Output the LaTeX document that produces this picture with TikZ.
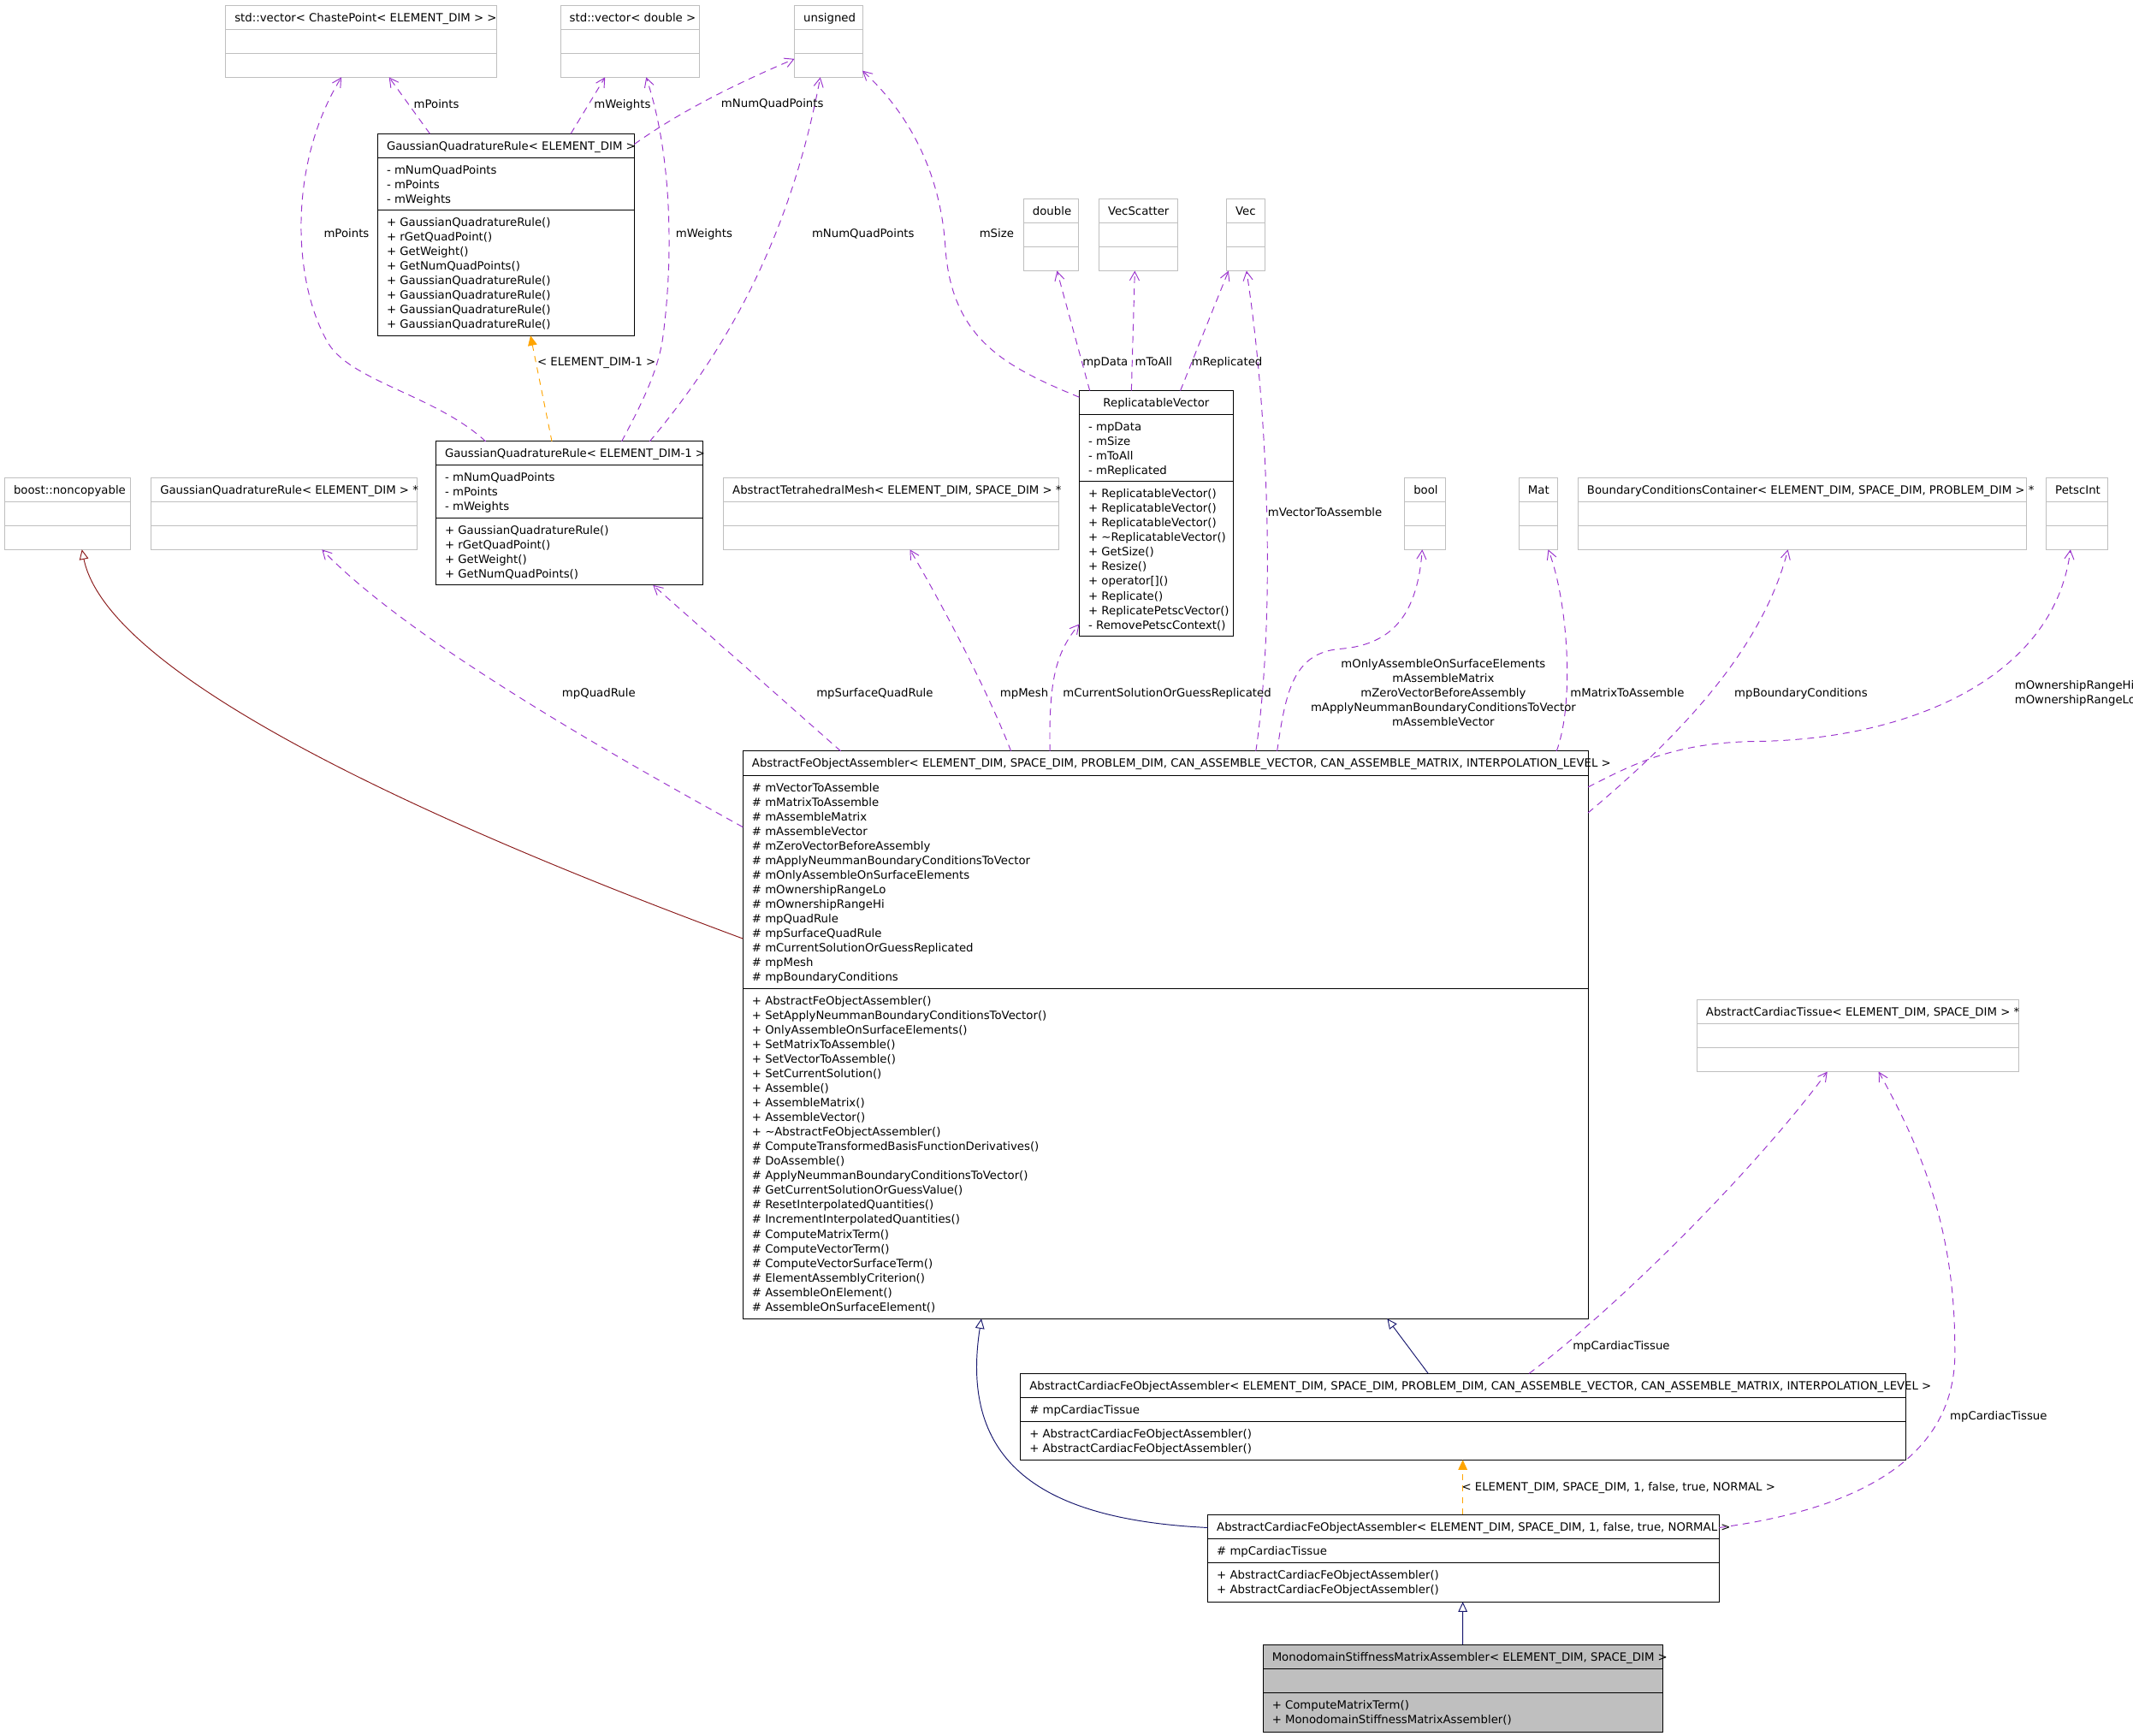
\documentclass[tikz,border=0pt]{standalone}
\usepackage{fontspec}
\setmainfont{DejaVu Sans}
\usetikzlibrary{arrows.meta,calc}
\definecolor{boxgray}{HTML}{BFBFBF}
\definecolor{usepurple}{HTML}{9A32CD}
\definecolor{inhred}{HTML}{8B1A1A}
\definecolor{inhblue}{HTML}{191970}
\definecolor{tmplorange}{HTML}{FFA500}
\definecolor{monofill}{HTML}{BFBFBF}
\newcommand\firststrut{\rule{0pt}{7.5pt}}
\newcommand\classbox[8]{%
  \node[#2, minimum width={(#5-#3)*1pt}, minimum height={(#8-#4)*1pt}] (#1) at (#3,#4) {};
  \draw[#2line] (#3,#6) -- (#5,#6) (#3,#7) -- (#5,#7);
}
\begin{document}
\begin{tikzpicture}[x=1pt,y=-1pt,
  font=\fontsize{8.35}{10.7}\selectfont,
  gbox/.style={draw=boxgray,line width=0.63pt,inner sep=0pt,outer sep=0pt,anchor=north west},
  gboxline/.style={draw=boxgray,line width=0.63pt},
  bbox/.style={draw=black,line width=0.63pt,inner sep=0pt,outer sep=0pt,anchor=north west},
  bboxline/.style={draw=black,line width=0.63pt},
  mbox/.style={bbox,fill=monofill},
  mboxline/.style={draw=black,line width=0.63pt},
  hdr/.style={anchor=base west,inner sep=0pt},
  lst/.style={anchor=north west,inner sep=0pt,align=left},
  lbl/.style={anchor=base west,inner sep=0pt},
  usage/.style={draw=usepurple,line width=0.6pt,dash pattern=on 5pt off 3.8pt,-{Straight Barb[length=6.5pt,width=7pt]}},
  tmpl/.style={draw=tmplorange,line width=0.6pt,dash pattern=on 4.5pt off 4pt,-{Triangle[length=7.3pt,width=6.7pt]}},
  inhr/.style={draw=inhred,line width=0.6pt,-{Triangle[open,length=7.3pt,width=6.7pt]}},
  inhb/.style={draw=inhblue,line width=0.6pt,-{Triangle[open,length=7.3pt,width=6.7pt]}},
]
\useasboundingbox (0,0) rectangle (1568,1276);
\fill[white] (0,0) rectangle (1568,1276);

% ---------- boxes ----------
\classbox{vcp}{gbox}{166}{4}{365}{21.6}{39.2}{56.8}
\classbox{vdb}{gbox}{412}{4}{514}{21.6}{39.2}{56.8}
\classbox{uns}{gbox}{584}{4}{634}{21.6}{39.2}{56.8}
\classbox{dbl}{gbox}{752.4}{146.3}{792.6}{163.9}{181.5}{199.1}
\classbox{vsc}{gbox}{807.8}{146.3}{865.8}{163.9}{181.5}{199.1}
\classbox{vec}{gbox}{901.6}{146.3}{929.6}{163.9}{181.5}{199.1}
\classbox{gqr}{bbox}{277.6}{98.3}{466.3}{115.9}{154.5}{246.7}
\classbox{gqra}{bbox}{320.4}{324.5}{516.4}{342.1}{380.9}{430.2}
\classbox{rv}{bbox}{793.4}{287.2}{906.6}{304.9}{354.1}{467.8}
\classbox{nc}{gbox}{3.4}{351.2}{95.8}{368.8}{386.4}{404}
\classbox{gqrp}{gbox}{111.1}{351.2}{306.5}{368.8}{386.4}{404}
\classbox{atm}{gbox}{531.8}{351.2}{778.3}{368.8}{386.4}{404}
\classbox{bool}{gbox}{1032.5}{351.2}{1062.5}{368.8}{386.4}{404}
\classbox{mat}{gbox}{1116.6}{351.2}{1145}{368.8}{386.4}{404}
\classbox{bcc}{gbox}{1160}{351.2}{1489.9}{368.8}{386.4}{404}
\classbox{pint}{gbox}{1504.2}{351.2}{1549.3}{368.8}{386.4}{404}
\classbox{main}{bbox}{546.1}{552.2}{1167.4}{570.1}{727}{969.4}
\classbox{act}{gbox}{1247.4}{735}{1483.9}{752.6}{770.2}{787.8}
\classbox{cfa}{bbox}{750.1}{1009.7}{1401.3}{1027.3}{1044.9}{1073.2}
\classbox{cfb}{bbox}{887.8}{1113.4}{1263.7}{1131.1}{1148.7}{1177.6}
\classbox{mono}{mbox}{928.4}{1209}{1222.6}{1226.6}{1244.2}{1273.2}

% ---------- box texts ----------
\node[hdr] (vcp-h) at (172.3,15.8) {std::vector< ChastePoint< ELEMENT\_DIM > >};
\node[hdr] (vdb-h) at (418.5,15.8) {std::vector< double >};
\node[hdr] (uns-h) at (590.5,15.8) {unsigned};
\node[hdr] (dbl-h) at (758.9,158.1) {double};
\node[hdr] (vsc-h) at (814.3,158.1) {VecScatter};
\node[hdr] (vec-h) at (908.1,158.1) {Vec};
\node[hdr] (nc-h) at (9.9,363) {boost::noncopyable};
\node[hdr] (gqrp-h) at (117.6,363) {GaussianQuadratureRule< ELEMENT\_DIM > *};
\node[hdr] (atm-h) at (538.3,363) {AbstractTetrahedralMesh< ELEMENT\_DIM, SPACE\_DIM > *};
\node[hdr] (bool-h) at (1039,363) {bool};
\node[hdr] (mat-h) at (1123.1,363) {Mat};
\node[hdr] (bcc-h) at (1166.5,363) {BoundaryConditionsContainer< ELEMENT\_DIM, SPACE\_DIM, PROBLEM\_DIM > *};
\node[hdr] (pint-h) at (1510.7,363) {PetscInt};
\node[hdr] (act-h) at (1253.9,746.8) {AbstractCardiacTissue< ELEMENT\_DIM, SPACE\_DIM > *};

\node[hdr] (gqr-h) at (284.1,110.1) {GaussianQuadratureRule< ELEMENT\_DIM >};
\node[lst] (gqr-a) at (284.1,120.1) {\firststrut- mNumQuadPoints\\- mPoints\\- mWeights};
\node[lst] (gqr-m) at (284.1,158.7) {\firststrut+ GaussianQuadratureRule()\\+ rGetQuadPoint()\\+ GetWeight()\\+ GetNumQuadPoints()\\+ GaussianQuadratureRule()\\+ GaussianQuadratureRule()\\+ GaussianQuadratureRule()\\+ GaussianQuadratureRule()};

\node[hdr] (gqra-h) at (326.9,336.3) {GaussianQuadratureRule< ELEMENT\_DIM-1 >};
\node[lst] (gqra-a) at (326.9,346.3) {\firststrut- mNumQuadPoints\\- mPoints\\- mWeights};
\node[lst] (gqra-m) at (326.9,385.1) {\firststrut+ GaussianQuadratureRule()\\+ rGetQuadPoint()\\+ GetWeight()\\+ GetNumQuadPoints()};

\node[anchor=base,inner sep=0pt] (rv-h) at (850,299) {ReplicatableVector};
\node[lst] (rv-a) at (799.9,309.1) {\firststrut- mpData\\- mSize\\- mToAll\\- mReplicated};
\node[lst] (rv-m) at (799.9,358.3) {\firststrut+ ReplicatableVector()\\+ ReplicatableVector()\\+ ReplicatableVector()\\+ \textasciitilde ReplicatableVector()\\+ GetSize()\\+ Resize()\\+ operator[]()\\+ Replicate()\\+ ReplicatePetscVector()\\- RemovePetscContext()};

\node[hdr] (main-h) at (552.6,564) {AbstractFeObjectAssembler< ELEMENT\_DIM, SPACE\_DIM, PROBLEM\_DIM, CAN\_ASSEMBLE\_VECTOR, CAN\_ASSEMBLE\_MATRIX, INTERPOLATION\_LEVEL >};
\node[lst] (main-a) at (552.6,574.3) {\firststrut\# mVectorToAssemble\\\# mMatrixToAssemble\\\# mAssembleMatrix\\\# mAssembleVector\\\# mZeroVectorBeforeAssembly\\\# mApplyNeummanBoundaryConditionsToVector\\\# mOnlyAssembleOnSurfaceElements\\\# mOwnershipRangeLo\\\# mOwnershipRangeHi\\\# mpQuadRule\\\# mpSurfaceQuadRule\\\# mCurrentSolutionOrGuessReplicated\\\# mpMesh\\\# mpBoundaryConditions};
\node[lst] (main-m) at (552.6,731.2) {\firststrut+ AbstractFeObjectAssembler()\\+ SetApplyNeummanBoundaryConditionsToVector()\\+ OnlyAssembleOnSurfaceElements()\\+ SetMatrixToAssemble()\\+ SetVectorToAssemble()\\+ SetCurrentSolution()\\+ Assemble()\\+ AssembleMatrix()\\+ AssembleVector()\\+ \textasciitilde AbstractFeObjectAssembler()\\\# ComputeTransformedBasisFunctionDerivatives()\\\# DoAssemble()\\\# ApplyNeummanBoundaryConditionsToVector()\\\# GetCurrentSolutionOrGuessValue()\\\# ResetInterpolatedQuantities()\\\# IncrementInterpolatedQuantities()\\\# ComputeMatrixTerm()\\\# ComputeVectorTerm()\\\# ComputeVectorSurfaceTerm()\\\# ElementAssemblyCriterion()\\\# AssembleOnElement()\\\# AssembleOnSurfaceElement()};

\node[hdr] (cfa-h) at (756.6,1021.5) {AbstractCardiacFeObjectAssembler< ELEMENT\_DIM, SPACE\_DIM, PROBLEM\_DIM, CAN\_ASSEMBLE\_VECTOR, CAN\_ASSEMBLE\_MATRIX, INTERPOLATION\_LEVEL >};
\node[lst] (cfa-a) at (756.6,1031.5) {\firststrut\# mpCardiacTissue};
\node[lst] (cfa-m) at (756.6,1049.1) {\firststrut+ AbstractCardiacFeObjectAssembler()\\+ AbstractCardiacFeObjectAssembler()};

\node[hdr] (cfb-h) at (894.3,1125.2) {AbstractCardiacFeObjectAssembler< ELEMENT\_DIM, SPACE\_DIM, 1, false, true, NORMAL >};
\node[lst] (cfb-a) at (894.3,1135.3) {\firststrut\# mpCardiacTissue};
\node[lst] (cfb-m) at (894.3,1152.9) {\firststrut+ AbstractCardiacFeObjectAssembler()\\+ AbstractCardiacFeObjectAssembler()};

\node[hdr] (mono-h) at (934.9,1220.8) {MonodomainStiffnessMatrixAssembler< ELEMENT\_DIM, SPACE\_DIM >};
\node[lst] (mono-m) at (934.9,1248.4) {\firststrut+ ComputeMatrixTerm()\\+ MonodomainStiffnessMatrixAssembler()};

% ---------- usage edges ----------
\draw[usage] ($(gqr.north west)+(38.4,0)$) -- ($(vcp.south west)+(120,0)$);
\draw[usage] ($(gqr.north west)+(142,0)$) -- ($(vdb.south west)+(32.8,0)$);
\draw[usage] ($(gqr.north east)+(0,7.7)$) .. controls (500,82) and (540,62) .. ($(uns.north west)+(0,39.3)$);
\draw[usage] ($(gqra.north west)+(36.6,0)$) .. controls (320,290) and (255,280) .. (240,250) .. controls (215,205) and (212,120) .. ($(vcp.south west)+(85,0)$);
\draw[usage] ($(gqra.north west)+(136.6,0)$) .. controls (470,300) and (483,275) .. (487,250) .. controls (494,200) and (496,120) .. ($(vdb.south west)+(63,0)$);
\draw[usage] ($(gqra.north west)+(157.2,0)$) .. controls (530,262) and (580,180) .. ($(uns.south west)+(19,0)$);
\draw[usage] ($(rv.north west)+(0,4.8)$) .. controls (740,270) and (700,250) .. (695,183) .. controls (692,130) and (670,85) .. ($(uns.north east)+(0,48)$);
\draw[usage] ($(rv.north west)+(7.7,0)$) -- ($(dbl.south west)+(24.6,0)$);
\draw[usage] ($(rv.north west)+(38.3,0)$) -- ($(vsc.south west)+(26.4,0)$);
\draw[usage] ($(rv.north west)+(74.3,0)$) -- ($(vec.south west)+(1.5,0)$);
\draw[usage] ($(main.north west)+(225.7,0)$) .. controls (771,500) and (776,480) .. ($(rv.south west)+(0,-9)$);
\draw[usage] ($(main.north west)+(197.1,0)$) .. controls (725,505) and (690,440) .. ($(atm.south west)+(137.1,0)$);
\draw[usage] ($(main.north west)+(72,0)$) -- ($(gqra.south west)+(159.7,0)$);
\draw[usage] ($(main.north west)+(0,55.8)$) .. controls (450,555) and (300,470) .. ($(gqrp.south west)+(125.6,0)$);
\draw[usage] ($(main.north west)+(392.7,0)$) .. controls (945,510) and (950,480) .. (985,477) .. controls (1025,474) and (1042,450) .. ($(bool.south west)+(13,0)$);
\draw[usage] ($(main.north west)+(377.1,0)$) .. controls (938,450) and (932,300) .. ($(vec.south west)+(14.7,0)$);
\draw[usage] ($(main.north west)+(598.1,0)$) .. controls (1158,515) and (1152,440) .. ($(mat.south west)+(21.5,0)$);
\draw[usage] ($(main.north east)+(0,45.3)$) .. controls (1230,545) and (1295,480) .. ($(bcc.south west)+(154.3,0)$);
\draw[usage] ($(main.north east)+(0,26.4)$) .. controls (1200,562) and (1230,546) .. (1290,545) .. controls (1400,544) and (1510,500) .. ($(pint.south west)+(17.8,0)$);
\draw[usage] ($(cfa.north west)+(373.9,0)$) .. controls (1190,960) and (1290,860) .. ($(act.south west)+(95.9,0)$);
\draw[usage] ($(cfb.north east)+(0,9.6)$) .. controls (1360,1110) and (1440,1075) .. (1437,990) .. controls (1437,900) and (1410,840) .. ($(act.south west)+(133.6,0)$);

% ---------- template edges ----------
\draw[tmpl] ($(gqra.north west)+(85.3,0)$) -- ($(gqr.south west)+(112.4,0)$);
\draw[tmpl] ($(cfb.north west)+(187.5,0)$) -- ($(cfa.south west)+(325.2,0)$);

% ---------- inheritance edges ----------
\draw[inhr] ($(main.north west)+(0,137.8)$) .. controls (330,610) and (80,500) .. ($(nc.south west)+(56.8,0)$);
\draw[inhb] ($(cfa.north west)+(299.8,0)$) -- ($(main.south west)+(473.7,0)$);
\draw[inhb] ($(cfb.north west)+(0,9.6)$) .. controls (765,1117) and (705,1075) .. ($(main.south west)+(175.3,0)$);
\draw[inhb] ($(mono.north west)+(146.9,0)$) -- ($(cfb.south west)+(187.5,0)$);

% ---------- edge labels ----------
\node[lbl] (l-mp1) at (304,79.5) {mPoints};
\node[lbl] (l-mw1) at (436.5,79.5) {mWeights};
\node[lbl] (l-mn1) at (530,79.2) {mNumQuadPoints};
\node[lbl] (l-mp2) at (237.9,174.5) {mPoints};
\node[lbl] (l-mw2) at (496.6,174.5) {mWeights};
\node[lbl] (l-mn2) at (596.7,174.3) {mNumQuadPoints};
\node[lbl] (l-ms) at (719.8,174.3) {mSize};
\node[lbl] (l-md) at (795.6,268.8) {mpData};
\node[lbl] (l-mt) at (834.2,268.8) {mToAll};
\node[lbl] (l-mr) at (875.7,268.8) {mReplicated};
\node[lbl] (l-t1) at (394.8,268.8) {< ELEMENT\_DIM-1 >};
\node[lbl] (l-mv) at (931.8,379.3) {mVectorToAssemble};
\node[lbl] (l-qr) at (413,512.4) {mpQuadRule};
\node[lbl] (l-sq) at (600,512.4) {mpSurfaceQuadRule};
\node[lbl] (l-me) at (735,512.4) {mpMesh};
\node[lbl] (l-cs) at (781.2,512.4) {mCurrentSolutionOrGuessReplicated};
\node[anchor=north,inner sep=0pt,align=center] (l-bool) at (1061,483.4) {\firststrut mOnlyAssembleOnSurfaceElements\\mAssembleMatrix\\mZeroVectorBeforeAssembly\\mApplyNeummanBoundaryConditionsToVector\\mAssembleVector};
\node[lbl] (l-mm) at (1154.2,512.2) {mMatrixToAssemble};
\node[lbl] (l-bc) at (1274.8,512.2) {mpBoundaryConditions};
\node[lst] (l-own) at (1480.9,499.1) {\firststrut mOwnershipRangeHi\\mOwnershipRangeLo};
\node[lbl] (l-ct1) at (1156,991.9) {mpCardiacTissue};
\node[lbl] (l-ct2) at (1433.3,1043.6) {mpCardiacTissue};
\node[lbl] (l-t2) at (1074.4,1096) {< ELEMENT\_DIM, SPACE\_DIM, 1, false, true, NORMAL >};
\end{tikzpicture}
\end{document}
